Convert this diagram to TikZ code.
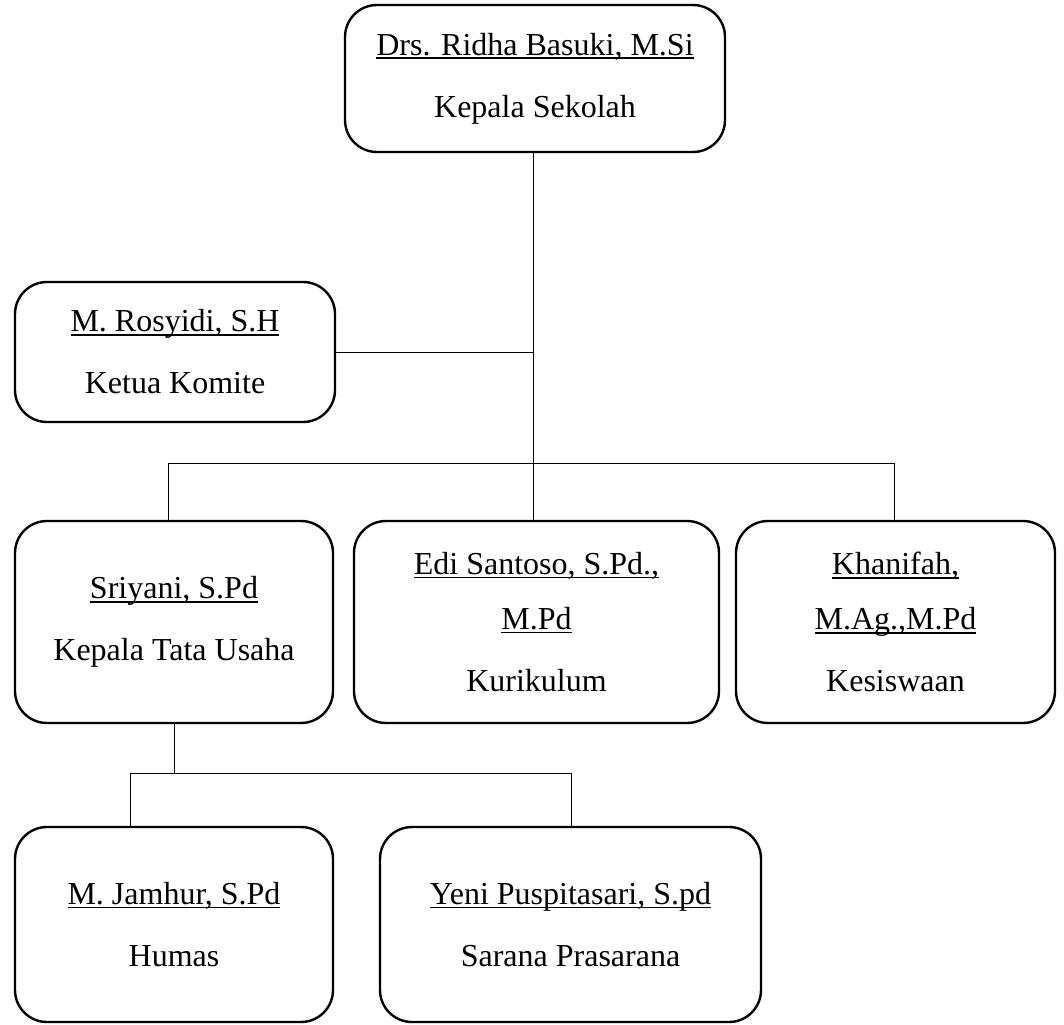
\documentclass[tikz,border=0pt]{standalone}
\usepackage{fontspec}
\setmainfont{Liberation Serif}
\usepackage{tikz}
\newcommand{\uname}[1]{\setbox0\hbox{#1}\rlap{\rule[-4pt]{\wd0}{1.8pt}}\box0}
\tikzset{
  org_node/.style = {align=center, inner sep=0pt, text centered,
    font=\fontsize{32}{62}\selectfont},
  org_box/.style = {org_node, rectangle, rounded corners=32pt, draw=black,
    line width=2.4pt},% kotak jabatan
  org_line/.style = {draw=black, line width=0.9pt},% garis struktur
}
\begin{document}
\begin{tikzpicture}[x=1pt,y=-1pt]
  \useasboundingbox (0,0) rectangle (1064,1024);

  \node[org_box, minimum width=380pt, minimum height=147pt] (kepsek) at (535,78.5)
    {\uname{Drs. Ridha Basuki, M.Si}\\Kepala Sekolah};
  \node[org_box, minimum width=320pt, minimum height=140pt] (komite) at (175,352)
    {\uname{M. Rosyidi, S.H}\\Ketua Komite};

  \node[org_box, minimum width=318pt, minimum height=202pt] (tu) at (174,622)
    {\uname{Sriyani, S.Pd}\\Kepala Tata Usaha};
  \node[org_box, minimum width=365pt, minimum height=202pt] (kurikulum) at (536.5,622)
    {\uname{Edi Santoso, S.Pd.,}\\[-7pt]\uname{M.Pd}\\Kurikulum};
  \node[org_box, minimum width=319pt, minimum height=202pt] (kesiswaan) at (895.5,622)
    {\uname{Khanifah,}\\[-7pt]\uname{M.Ag.,M.Pd}\\Kesiswaan};

  \node[org_box, minimum width=318pt, minimum height=195pt] (humas) at (174,924.5)
    {\uname{M. Jamhur, S.Pd}\\Humas};
  \node[org_box, minimum width=381pt, minimum height=195pt] (sarpras) at (570.5,924.5)
    {\uname{Yeni Puspitasari, S.pd}\\Sarana Prasarana};

  \coordinate (hub) at (533,463);
  \coordinate (busL) at (168,463);
  \coordinate (busR) at (894,463);
  \coordinate (tujoin) at (174,773);
  \coordinate (subL) at (130,773);
  \coordinate (subR) at (571,773);

  %   kepala sekolah dan komite
  \path[org_line] (kepsek.south -| hub) edge (hub);
  \path[org_line] (komite.east) edge (komite.east -| hub);
  %   wakil kepala
  \path[org_line] (busL) edge (busR);
  \path[org_line] (busL) edge (busL |- tu.north);
  \path[org_line] (hub) edge (hub |- kurikulum.north);
  \path[org_line] (busR) edge (busR |- kesiswaan.north);
  %   bawah tata usaha
  \path[org_line] (tu.south) edge (tujoin);
  \path[org_line] (subL) edge (subR);
  \path[org_line] (subL) edge (subL |- humas.north);
  \path[org_line] (subR) edge (subR |- sarpras.north);
\end{tikzpicture}
\end{document}
